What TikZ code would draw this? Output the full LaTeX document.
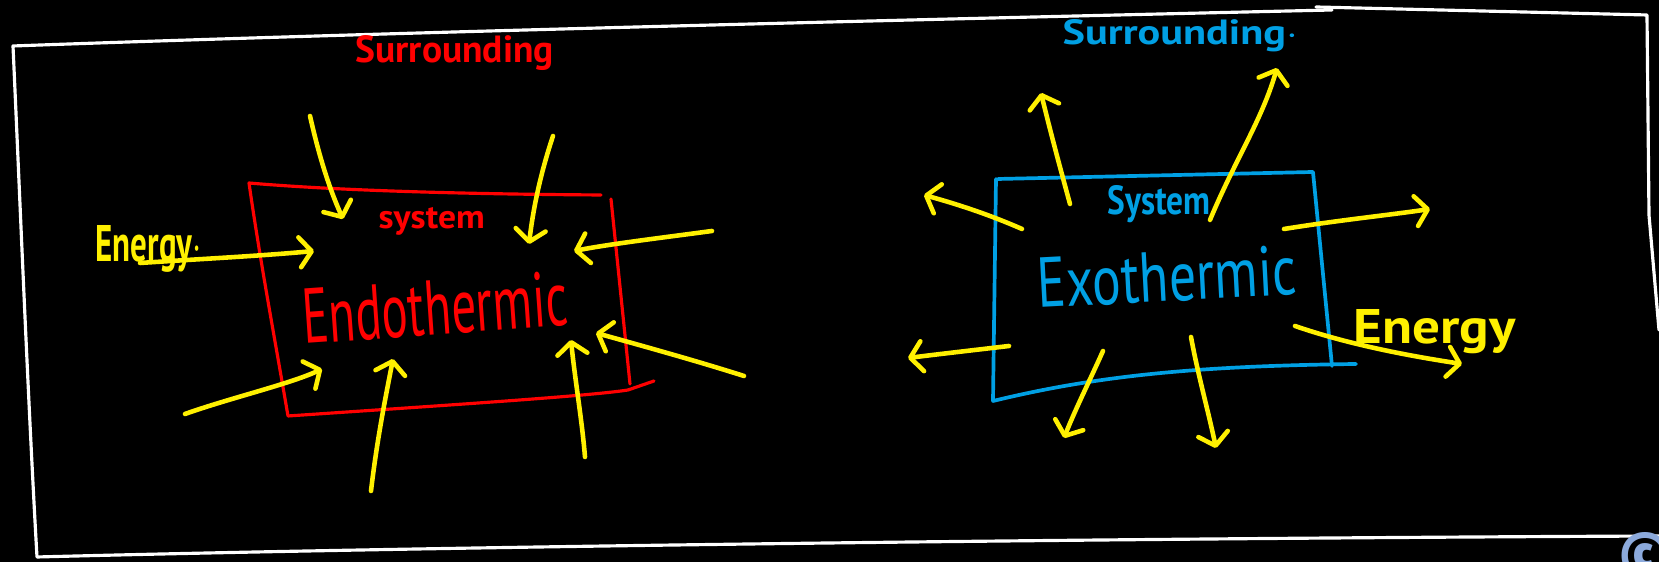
\documentclass[tikz,border=0pt]{standalone}
\usepackage{fontspec}
\usepackage{graphicx}
\setmainfont{PT Sans}
\usetikzlibrary{arrows.meta}
\definecolor{hred}{RGB}{255,0,0}
\definecolor{hblue}{RGB}{0,160,228}
\definecolor{hyel}{RGB}{255,240,0}
\definecolor{cpy}{RGB}{140,170,220}
\begin{document}
\begin{tikzpicture}[x=0.01cm,y=-0.01cm,
  frame/.style={white, line width=0.9pt, line cap=round, line join=round},
  redline/.style={hred, line width=0.9pt, line cap=round, line join=round},
  blueline/.style={hblue, line width=1.05pt, line cap=round, line join=round},
  arr/.style={hyel, line width=1.3pt, line cap=round, -{Straight Barb[length=1.2mm,width=3mm,round]}},
  lbl/.style={inner sep=0pt, anchor=base west, font=\bfseries},
  big/.style={inner sep=0pt, anchor=base west},
]
\fill[black] (0,0) rectangle (1659,562);
\useasboundingbox (0,0) rectangle (1659,562);

% outer frame
\draw[frame] (1332,10) .. controls (900,20) and (400,32) .. (13,46)
  .. controls (20,200) and (28,400) .. (37,557)
  .. controls (500,545) and (1200,538) .. (1659,536);
\draw[frame] (1316,7) -- (1647,15) -- (1649,215) -- (1659,330);

% ---------- Endothermic ----------
\draw[redline] (601,195) .. controls (450,194) and (330,190) .. (249,183)
  .. controls (260,260) and (275,340) .. (288,416)
  .. controls (450,405) and (590,396) .. (628,390) -- (654,381);
\draw[redline] (611,199) -- (630,384);

\node[lbl, hred] (sur1) at (355,63) {\resizebox{1.98cm}{0.27cm}{Surrounding}};
\node[lbl, hred] (sys1) at (378,229) {\resizebox{1.06cm}{0.21cm}{system}};
\node[big, hred, rotate=4] (endo) at (304,344) {\resizebox{2.65cm}{0.55cm}{Endothermic}};
\node[lbl, hyel] (en1) at (95,262) {\resizebox{1.06cm}{0.36cm}{Energy$\cdot$}};

\draw[arr] (310,116) .. controls (320,160) and (330,190) .. (343,219);
\draw[arr] (553,136) .. controls (540,175) and (533,210) .. (529,244);
\draw[arr] (140,263) .. controls (200,259) and (260,256) .. (314,251);
\draw[arr] (712,231) .. controls (660,238) and (610,244) .. (574,251);
\draw[arr] (185,414) .. controls (230,398) and (290,384) .. (322,369);
\draw[arr] (371,491) .. controls (377,440) and (385,400) .. (393,359);
\draw[arr] (585,457) .. controls (582,420) and (575,380) .. (571,340);
\draw[arr] (744,376) .. controls (700,362) and (650,348) .. (596,333);

% ---------- Exothermic ----------
\draw[blueline] (998,179) -- (1313,172) -- (1332,366);
\draw[blueline] (996,179) -- (993,401)
  .. controls (1100,375) and (1200,366) .. (1356,364);

\node[lbl, hblue] (sur2) at (1062,45) {\resizebox{2.35cm}{0.25cm}{Surrounding$\cdot$}};
\node[lbl, hblue] (sys2) at (1107,215) {\resizebox{1.03cm}{0.29cm}{System}};
\node[big, hblue, rotate=3] (exo) at (1038,308) {\resizebox{2.59cm}{0.5cm}{Exothermic}};
\node[lbl, hyel] (en2) at (1353,344) {\resizebox{1.62cm}{0.34cm}{Energy}};

\draw[arr] (1070,204) .. controls (1058,160) and (1050,130) .. (1041,93);
\draw[arr] (1210,220) .. controls (1235,160) and (1262,120) .. (1277,68);
\draw[arr] (1022,229) .. controls (990,215) and (960,205) .. (924,195);
\draw[arr] (1284,229) .. controls (1340,220) and (1390,215) .. (1430,209);
\draw[arr] (1009,346) .. controls (975,350) and (940,354) .. (908,358);
\draw[arr] (1103,351) .. controls (1090,380) and (1075,410) .. (1064,438);
\draw[arr] (1191,337) .. controls (1198,375) and (1208,410) .. (1216,448);
\draw[arr] (1295,326) .. controls (1350,345) and (1410,356) .. (1462,364);

\node[cpy, inner sep=0pt] (cr) at (1645,556) {\resizebox{!}{0.42cm}{\textbf{\textcopyright}}};
\end{tikzpicture}
\end{document}
